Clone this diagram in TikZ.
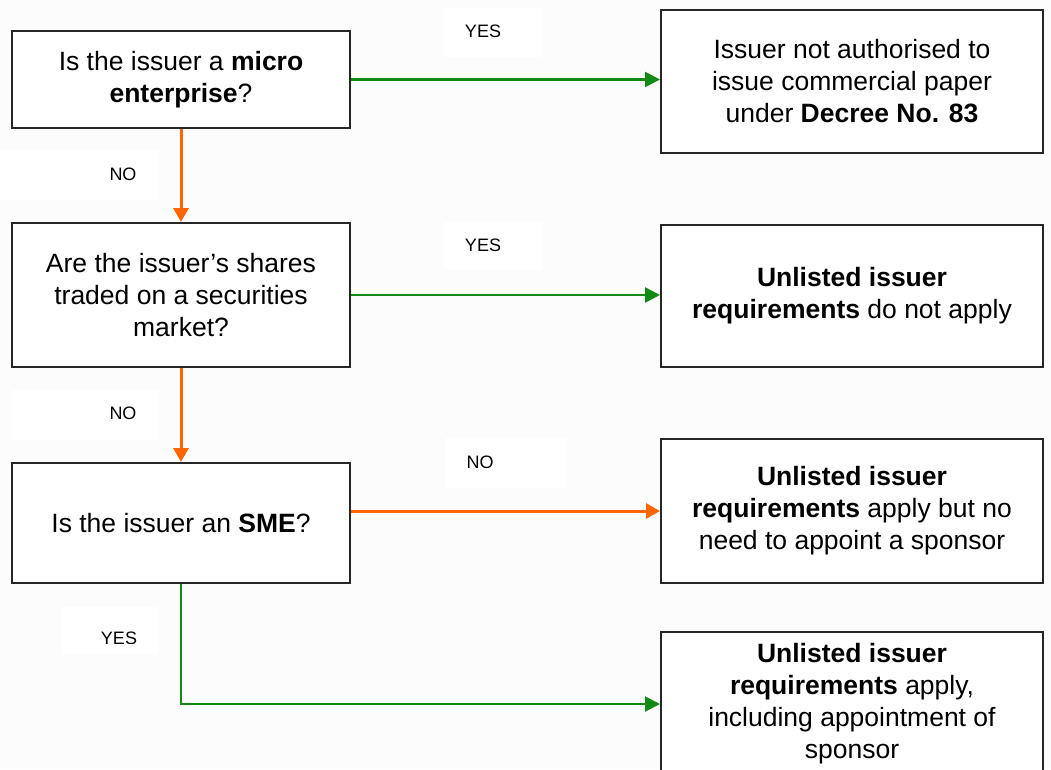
\documentclass[tikz,border=0pt]{standalone}
\usepackage{fontspec}
\setmainfont{Liberation Sans}
\usetikzlibrary{arrows.meta}
\definecolor{bg}{HTML}{FCFCFC}
\definecolor{grn}{HTML}{138A13}
\definecolor{org}{HTML}{FF6600}
\tikzset{
  box/.style={draw=black!85, line width=2pt, fill=white, align=center, inner sep=0pt,
    font=\fontsize{26.5}{32}\selectfont},
  lbl/.style={font=\fontsize{18}{21}\selectfont, inner sep=0pt},
  lblbg/.style={fill=white},
  yesarrow/.style={draw=grn, line width=2.5pt, -{Triangle[length=15pt,width=15pt]}},
  noarrow/.style={draw=org, line width=3pt, -{Triangle[length=14pt,width=15pt]}},
}
\begin{document}
\begin{tikzpicture}[x=1pt,y=-1pt]
\useasboundingbox[fill=bg] (0,0) rectangle (1051,769);
% label backgrounds
\fill[lblbg] (0,150) rectangle (158,200);
\fill[lblbg] (444,8) rectangle (542,57);
\fill[lblbg] (444,222) rectangle (542,270);
\fill[lblbg] (12,390) rectangle (158,440);
\fill[lblbg] (445,438) rectangle (566,488);
\fill[lblbg] (61,607) rectangle (158,655);
% decision boxes
\node[box, minimum width=338pt, minimum height=97pt] (b1) at (181,79.5)
  {Is the issuer a \textbf{micro}\\\textbf{enterprise}?};
\node[box, minimum width=338pt, minimum height=144pt] (b2) at (181,295)
  {Are the issuer’s shares\\traded on a securities\\market?};
\node[box, minimum width=338pt, minimum height=120pt] (b3) at (181,523)
  {Is the issuer an \textbf{SME}?};
% outcome boxes
\node[box, minimum width=382pt, minimum height=143pt] (r1) at (852,81.5)
  {Issuer not authorised to\\issue commercial paper\\under \textbf{Decree No. 83}};
\node[box, minimum width=382pt, minimum height=142pt] (r2) at (852,296)
  {\textbf{Unlisted issuer}\\\textbf{requirements} do not apply};
\node[box, minimum width=382pt, minimum height=144pt] (r3) at (852,511)
  {\textbf{Unlisted issuer}\\\textbf{requirements} apply but no\\need to appoint a sponsor};
\node[box, minimum width=382pt, minimum height=144pt] (r4) at (852,704)
  {\textbf{Unlisted issuer}\\\textbf{requirements} apply,\\including appointment of\\sponsor};
% labels
\node[lbl] (no1) at (123,174) {NO};
\node[lbl] (yes1) at (483,31) {YES};
\node[lbl] (yes2) at (483,245) {YES};
\node[lbl] (no2) at (123,413) {NO};
\node[lbl] (no3) at (480,462) {NO};
\node[lbl] (yes3) at (119,638) {YES};
% connectors
\draw[yesarrow] (b1.east) -- (b1.east -| r1.west);
\draw[noarrow] (b1.south) -- (b2.north);
\draw[yesarrow] (b2.east) -- (b2.east -| r2.west);
\draw[noarrow] (b2.south) -- (b3.north);
\draw[noarrow] (r3.west -| b3.east) -- (r3.west);
\draw[yesarrow, line width=2pt] (b3.south) |- (r4.west);
\end{tikzpicture}
\end{document}
